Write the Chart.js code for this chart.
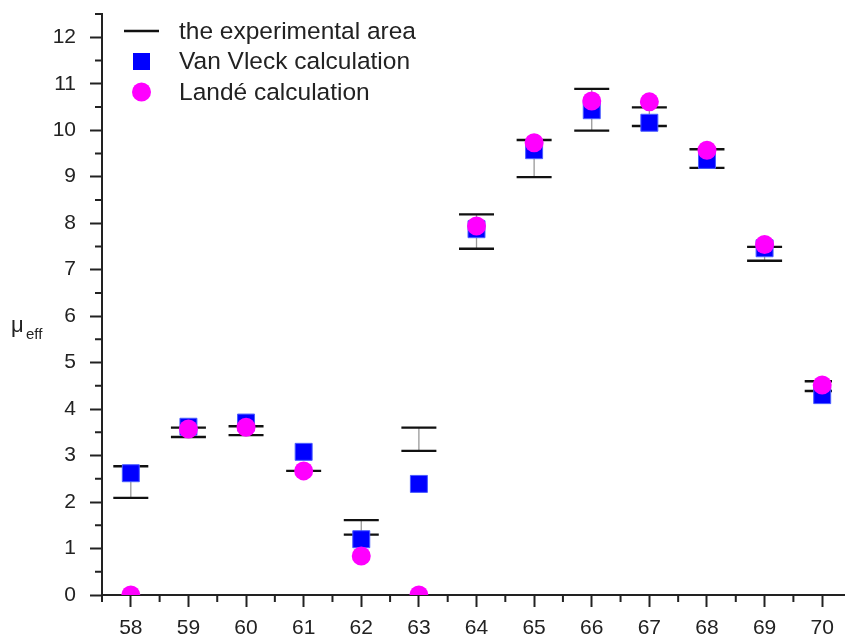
<!DOCTYPE html>
<html>
<head>
<meta charset="utf-8">
<script src="https://cdn.jsdelivr.net/npm/chart.js@4"></script>
<style>
html,body{margin:0;padding:0;background:#fff;}
#wrap{width:845px;height:643px;position:relative;}
</style>
</head>
<body>
<div id="wrap"><canvas id="c" width="845" height="643"></canvas></div>
<script>
// ---- data ----
const atomicNumbers = [58, 59, 60, 61, 62, 63, 64, 65, 66, 67, 68, 69, 70];
const expLow  = [2.09, 3.40, 3.44, 2.67, 1.30, 3.10, 7.45, 8.99, 9.99, 10.09, 9.19, 7.19, 4.39];
const expHigh = [2.77, 3.60, 3.63, 2.67, 1.61, 3.60, 8.19, 9.79, 10.89, 10.49, 9.59, 7.49, 4.60];
const vanVleck = [2.62, 3.62, 3.71, 3.08, 1.20, 2.39, 7.87, 9.57, 10.43, 10.16, 9.36, 7.46, 4.30];
const lande    = [0.00, 3.57, 3.61, 2.67, 0.84, 0.00, 7.94, 9.73, 10.63, 10.61, 9.57, 7.54, 4.52];
const xTickValues = [58, 59, 60, 61, 62, 63, 64, 65, 66, 67, 68, 69, 70];
const yTickValues = [0, 1, 2, 3, 4, 5, 6, 7, 8, 9, 10, 11, 12];
const legendLabels = ['the experimental area', 'Van Vleck calculation', 'Landé calculation'];

const FONT = '"Liberation Sans", Arial, sans-serif';

const decorPlugin = {
  id: 'decor',
  beforeDatasetsDraw(chart) {
    const ctx = chart.ctx, xs = chart.scales.x, ys = chart.scales.y;
    ctx.save();
    ctx.beginPath();
    ctx.rect(chart.chartArea.left, chart.chartArea.top - 5, chart.chartArea.right - chart.chartArea.left, chart.chartArea.bottom - chart.chartArea.top + 5);
    ctx.clip();
    const half = 17.5;
    atomicNumbers.forEach((n, i) => {
      const x = xs.getPixelForValue(n);
      const yl = ys.getPixelForValue(expLow[i]);
      const yh = ys.getPixelForValue(expHigh[i]);
      ctx.strokeStyle = '#999';
      ctx.lineWidth = 1.3;
      ctx.beginPath(); ctx.moveTo(x, yl); ctx.lineTo(x, yh); ctx.stroke();
      ctx.strokeStyle = '#111';
      ctx.lineWidth = 2.4;
      ctx.beginPath();
      ctx.moveTo(x - half, yl); ctx.lineTo(x + half, yl);
      ctx.moveTo(x - half, yh); ctx.lineTo(x + half, yh);
      ctx.stroke();
    });
    ctx.restore();
  },
  afterDraw(chart) {
    const ctx = chart.ctx, xs = chart.scales.x, ys = chart.scales.y;
    ctx.save();
    // continue the bottom axis line to the page edge
    ctx.strokeStyle = '#222';
    ctx.lineWidth = 2;
    ctx.beginPath();
    ctx.moveTo(xs.right - 1, ys.bottom); ctx.lineTo(chart.width, ys.bottom);
    ctx.stroke();
    // minor ticks
    ctx.beginPath();
    for (let v = 57.5; v <= 70.5; v += 1) {
      if (v > xs.max) continue;
      const x = xs.getPixelForValue(v);
      ctx.moveTo(x, ys.bottom); ctx.lineTo(x, ys.bottom + 7);
    }
    for (let v = 0.5; v <= 12.5; v += 1) {
      const y = ys.getPixelForValue(v);
      ctx.moveTo(xs.left, y); ctx.lineTo(xs.left - 7, y);
    }
    ctx.stroke();
    // y title
    ctx.fillStyle = '#222';
    ctx.textBaseline = 'alphabetic';
    ctx.textAlign = 'left';
    ctx.font = '22px ' + FONT;
    ctx.fillText('\u03bc', 11, 332);
    ctx.font = '15px ' + FONT;
    ctx.fillText('eff', 26, 339);
    // legend
    ctx.font = '24.5px ' + FONT;
    ctx.textBaseline = 'middle';
    ctx.strokeStyle = '#111';
    ctx.lineWidth = 2.4;
    ctx.beginPath(); ctx.moveTo(124, 31); ctx.lineTo(159, 31); ctx.stroke();
    ctx.fillStyle = '#0000ff';
    ctx.fillRect(133, 53, 17, 17);
    ctx.fillStyle = '#ff00ff';
    ctx.beginPath(); ctx.arc(141.5, 92, 9.5, 0, Math.PI * 2); ctx.fill();
    ctx.fillStyle = '#222';
    ctx.fillText(legendLabels[0], 179, 32);
    ctx.fillText(legendLabels[1], 179, 62);
    ctx.fillText(legendLabels[2], 179, 93);
    ctx.restore();
  }
};

new Chart(document.getElementById('c'), {
  type: 'scatter',
  data: {
    datasets: [
      {
        label: legendLabels[2],
        data: atomicNumbers.map((n, i) => ({x: n, y: lande[i]})),
        pointStyle: 'circle',
        pointRadius: 9.5,
        pointHoverRadius: 9.5,
        backgroundColor: '#ff00ff',
        borderColor: '#ff00ff',
        borderWidth: 0,
        order: 0
      },
      {
        label: legendLabels[1],
        data: atomicNumbers.map((n, i) => ({x: n, y: vanVleck[i]})),
        pointStyle: 'rect',
        pointRadius: 12,
        pointHoverRadius: 12,
        backgroundColor: '#0000ff',
        borderColor: '#4a5cff',
        borderWidth: 1,
        order: 1
      }
    ]
  },
  options: {
    responsive: false,
    animation: false,
    events: [],
    layout: { padding: { top: 14, right: 0, left: 0, bottom: 0 } },
    plugins: { legend: { display: false }, tooltip: { enabled: false } },
    scales: {
      x: {
        type: 'linear',
        min: 57.5,
        max: 70.17,
        afterBuildTicks: s => { s.ticks = xTickValues.map(v => ({value: v})); },
        afterFit: s => { s.height = 48; },
        grid: { drawOnChartArea: false, drawTicks: true, tickLength: 12, tickWidth: 2, tickColor: '#222' },
        border: { display: true, color: '#222', width: 2 },
        ticks: { color: '#222', font: { family: FONT, size: 21 }, padding: 9, maxRotation: 0, autoSkip: false }
      },
      y: {
        type: 'linear',
        min: 0,
        max: 12.5,
        afterBuildTicks: s => { s.ticks = yTickValues.map(v => ({value: v})); },
        afterFit: s => { s.width = 102; s.paddingTop = 0; s.paddingBottom = 0; },
        grid: { drawOnChartArea: false, drawTicks: true, tickLength: 12, tickWidth: 2, tickColor: '#222' },
        border: { display: true, color: '#222', width: 2 },
        ticks: { color: '#222', font: { family: FONT, size: 21 }, padding: 14, autoSkip: false }
      }
    }
  },
  plugins: [decorPlugin]
});
</script>
</body>
</html>
